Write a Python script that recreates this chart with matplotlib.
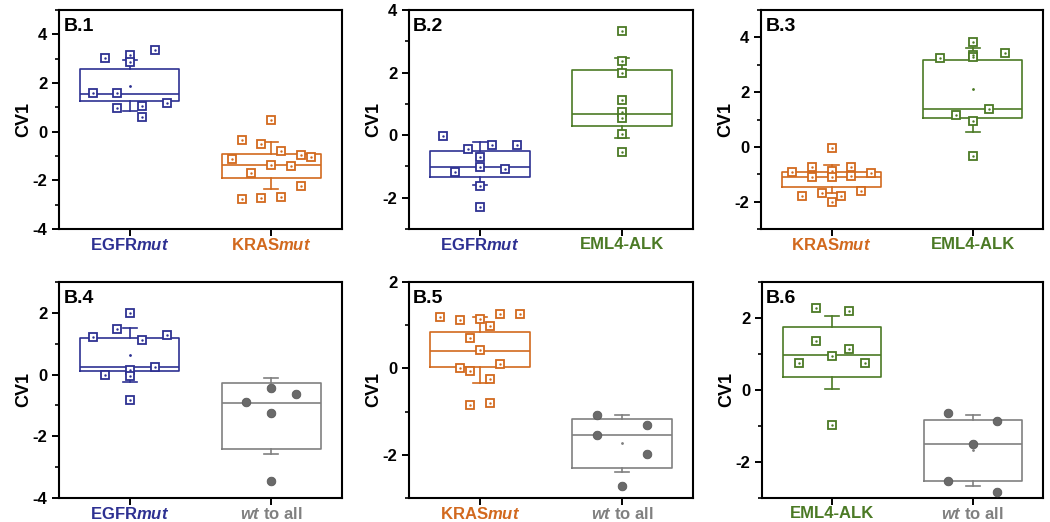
import numpy as np
import matplotlib
matplotlib.use("Agg")
import matplotlib.pyplot as plt
from matplotlib.ticker import MultipleLocator

plt.rcParams['font.family'] = 'Liberation Sans'
plt.rcParams['font.weight'] = 'bold'
plt.rcParams['axes.unicode_minus'] = False
plt.rcParams['mathtext.fontset'] = 'custom'
plt.rcParams['mathtext.rm'] = 'Liberation Sans:bold'
plt.rcParams['mathtext.bf'] = 'Liberation Sans:bold'
plt.rcParams['mathtext.it'] = 'Liberation Sans:italic:bold'

BLUE = '#2E3192'
ORANGE = '#D2691E'
GREEN = '#4B7A25'
GRAY = '#808080'

# category labels
lbl_egfr = r'EGFR$\mathit{mut}$'
lbl_kras = r'KRAS$\mathit{mut}$'
lbl_eml = 'EML4-ALK'
lbl_wt = r'$\mathit{wt}$ to all'

# box stats: whisker low, q1, median, q3, whisker high, mean
# B.1
egfr_b1_y = [3.03, 3.14, 2.87, 3.35, 1.58, 1.58, 0.96, 1.06, 0.59, 1.16]
egfr_b1_slot = [-2, 0, 0, 2, -3, -1, -1, 1, 1, 3]
egfr_b1_box = [0.84, 1.25, 1.54, 2.56, 2.95, 1.89]
kras_b1_y = [-1.14, -0.34, -2.75, -1.71, -0.52, -2.74, 0.48, -1.36, -0.80, -2.69, -1.42, -0.95, -2.23, -1.03]
kras_b1_slot = [-4, -3, -3, -2, -1, -1, 0, 0, 1, 1, 2, 3, 3, 4]
kras_b1_box = [-2.37, -1.90, -1.39, -0.90, -0.43, -1.38]

# B.2
egfr_b2_y = [-0.02, -1.18, -0.45, -0.71, -1.01, -1.64, -2.30, -0.31, -1.07, -0.31]
egfr_b2_slot = [-3, -2, -1, 0, 0, 0, 0, 1, 2, 3]
egfr_b2_box = [-1.59, -1.35, -1.01, -0.50, -0.21, -0.94]
eml_b2_y = [3.33, 2.38, 2.00, 1.12, 0.73, 0.54, 0.03, -0.53]
eml_b2_slot = [0, 0, 0, 0, 0, 0, 0, 0]
eml_b2_box = [-0.09, 0.30, 0.69, 2.09, 2.46, 1.20]

# B.3
kras_b3_y = [-0.93, -1.79, -0.73, -1.10, -1.69, -0.05, -0.89, -1.10, -2.02, -1.79, -0.73, -1.05, -1.60, -0.95]
kras_b3_slot = [-4, -3, -2, -2, -1, 0, 0, 0, 0, 1, 2, 2, 3, 4]
kras_b3_box = [-1.69, -1.48, -1.10, -0.91, -0.66, -1.13]
eml_b3_y = [3.26, 1.18, 3.82, 3.35, 3.29, 0.93, -0.34, 1.37, 3.43]
eml_b3_slot = [-2, -1, 0, 0, 0, 0, 0, 1, 2]
eml_b3_box = [0.56, 1.05, 1.37, 3.16, 3.61, 2.10]

# B.4
egfr_b4_y = [1.22, 0.00, 1.47, 1.98, 0.15, -0.05, -0.81, 1.13, 0.26, 1.29]
egfr_b4_slot = [-3, -2, -1, 0, 0, 0, 0, 1, 2, 3]
egfr_b4_box = [-0.25, 0.10, 0.26, 1.20, 1.52, 0.63]
wt_b4_y = [-0.89, -0.42, -1.26, -3.46, -0.62]
wt_b4_slot = [-1, 0, 0, 0, 1]
wt_b4_box = [-2.56, -2.41, -0.91, -0.27, -0.12, -1.33]

# B.5
kras_b5_y = [1.20, 1.11, 0.02, 0.71, -0.05, -0.85, 1.14, 0.42, 0.97, -0.24, -0.80, 1.27, 0.10, 1.27]
kras_b5_slot = [-4, -2, -2, -1, -1, -1, 0, 0, 1, 1, 1, 2, 2, 4]
kras_b5_box = [-0.33, 0.03, 0.41, 0.84, 1.20, 0.40]
wt_b5_y = [-1.08, -1.55, -2.73, -1.31, -1.98]
wt_b5_slot = [-1, -1, 0, 1, 1]
wt_b5_box = [-2.39, -2.31, -1.54, -1.18, -1.09, -1.73]

# B.6
eml_b6_y = [0.74, 2.28, 1.35, 0.95, -0.97, 2.19, 1.15, 0.76]
eml_b6_slot = [-2, -1, -1, 0, 0, 1, 1, 2]
eml_b6_box = [0.04, 0.35, 0.96, 1.74, 2.05, 0.92]
wt_b6_y = [-0.63, -2.53, -1.50, -0.86, -2.83]
wt_b6_slot = [-1, -1, 0, 1, 1]
wt_b6_box = [-2.67, -2.54, -1.50, -0.82, -0.70, -1.66]

BOX_W = 0.7


def draw_group(ax, pos, y, slot, box, color, kind):
    stats = [dict(whislo=box[0], q1=box[1], med=box[2], q3=box[3],
                  whishi=box[4], mean=box[5], fliers=[])]
    lp = dict(color=color, linewidth=1.2)
    ax.bxp(stats, positions=[pos], widths=BOX_W, capwidths=0.1,
           showmeans=True, showfliers=False,
           boxprops=lp, whiskerprops=lp, capprops=lp, medianprops=lp,
           meanprops=dict(marker='.', markersize=2, color=color,
                          markeredgecolor=color, markerfacecolor=color))
    k = np.array(slot)
    step = BOX_W / (2 * np.abs(k).max() + 2)
    x = pos + k * step
    if kind == 'square':
        ax.plot(x, y, ls='none', marker='s', markersize=5.4,
                markerfacecolor='white', markeredgecolor=color,
                markeredgewidth=1.3, zorder=4)
        ax.plot(x, y, ls='none', marker='.', markersize=1.5,
                color=color, zorder=5)
    else:
        ax.plot(x, y, ls='none', marker='o', markersize=6.2,
                markerfacecolor='#6A6A6A', markeredgecolor='#5A5A5A',
                markeredgewidth=0.6, zorder=4)


panels = [
    ('B.1', [0.0562, 0.5613, 0.2695, 0.4195], (-4, 5),
     [(egfr_b1_y, egfr_b1_slot, egfr_b1_box, BLUE, 'square', lbl_egfr),
      (kras_b1_y, kras_b1_slot, kras_b1_box, ORANGE, 'square', lbl_kras)]),
    ('B.2', [0.3895, 0.5613, 0.2705, 0.4195], (-3, 4),
     [(egfr_b2_y, egfr_b2_slot, egfr_b2_box, BLUE, 'square', lbl_egfr),
      (eml_b2_y, eml_b2_slot, eml_b2_box, GREEN, 'square', lbl_eml)]),
    ('B.3', [0.7248, 0.5613, 0.2686, 0.4195], (-3, 5),
     [(kras_b3_y, kras_b3_slot, kras_b3_box, ORANGE, 'square', lbl_kras),
      (eml_b3_y, eml_b3_slot, eml_b3_box, GREEN, 'square', lbl_eml)]),
    ('B.4', [0.0562, 0.046, 0.2695, 0.4138], (-4, 3),
     [(egfr_b4_y, egfr_b4_slot, egfr_b4_box, BLUE, 'square', lbl_egfr),
      (wt_b4_y, wt_b4_slot, wt_b4_box, GRAY, 'circle', lbl_wt)]),
    ('B.5', [0.3895, 0.046, 0.2705, 0.4138], (-3, 2),
     [(kras_b5_y, kras_b5_slot, kras_b5_box, ORANGE, 'square', lbl_kras),
      (wt_b5_y, wt_b5_slot, wt_b5_box, GRAY, 'circle', lbl_wt)]),
    ('B.6', [0.7257, 0.046, 0.2676, 0.4138], (-3, 3),
     [(eml_b6_y, eml_b6_slot, eml_b6_box, GREEN, 'square', lbl_eml),
      (wt_b6_y, wt_b6_slot, wt_b6_box, GRAY, 'circle', lbl_wt)]),
]

fig = plt.figure(figsize=(10.5, 5.22), dpi=100)

for name, rect, ylim, groups in panels:
    ax = fig.add_axes(rect)
    for i, (y, slot, box, color, kind, lbl) in enumerate(groups):
        draw_group(ax, i + 1, y, slot, box, color, kind)
    ax.set_xlim(0.5, 2.5)
    ax.set_ylim(*ylim)
    ax.yaxis.set_major_locator(MultipleLocator(2))
    ax.yaxis.set_minor_locator(MultipleLocator(1))
    ax.set_xticks([1, 2])
    ax.set_xticklabels([g[5] for g in groups], fontsize=12, fontweight='bold')
    for tl, g in zip(ax.get_xticklabels(), groups):
        tl.set_color(g[3])
    for s in ax.spines.values():
        s.set_linewidth(1.5)
    ax.tick_params(axis='both', which='major', direction='out', width=1.4,
                   length=5, labelsize=12, top=False, right=False)
    ax.tick_params(axis='y', which='minor', direction='out', width=1.2, length=3)
    ax.tick_params(axis='x', which='minor', bottom=False)
    ax.tick_params(axis='x', pad=1)
    for tl in ax.get_yticklabels():
        tl.set_fontweight('bold')
    ax.set_ylabel('CV1', fontsize=13, fontweight='bold', labelpad=0)
    ax.text(0.015, 0.962, name, transform=ax.transAxes, fontsize=14,
            fontweight='bold', va='top', ha='left')

fig.savefig('out.png', dpi=100)
